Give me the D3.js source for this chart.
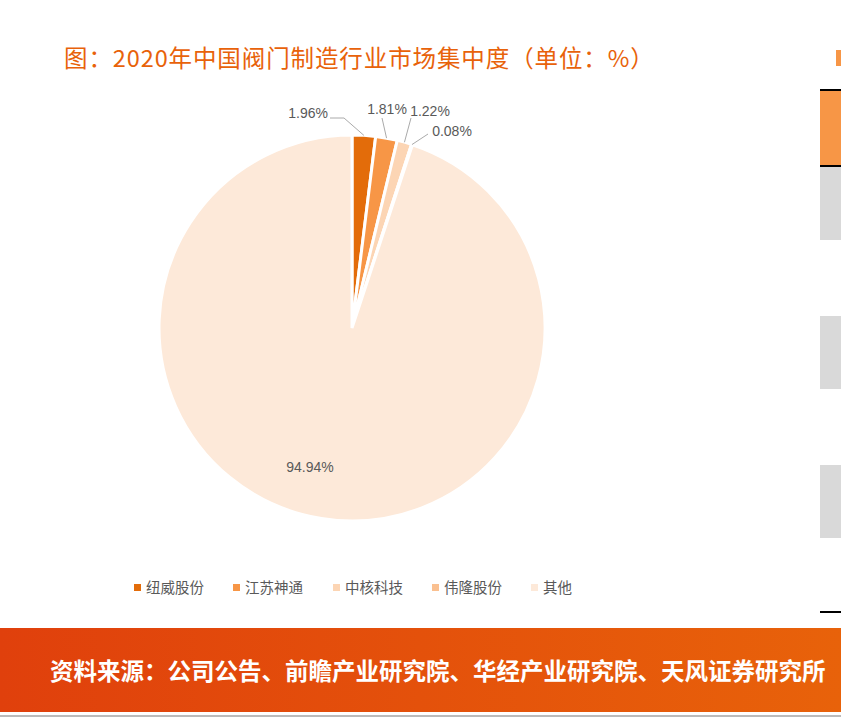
<!DOCTYPE html><html><head><meta charset="utf-8"><script src="https://cdn.jsdelivr.net/npm/d3@7"></script>
<style>body{margin:0;background:#fff}svg{display:block;font-family:"Noto Sans CJK SC","Noto Sans",sans-serif}</style></head><body>
<svg id="c" width="841" height="728"></svg>
<script>
const categories=["纽威股份","江苏神通","中核科技","伟隆股份","其他"];
const values=[1.96,1.81,1.22,0.08,94.94];
const labels=["1.96%","1.81%","1.22%","0.08%","94.94%"];
const colors=["#e36c0a","#f79646","#fcd5b4","#fac090","#fde9d9"];
const svg=d3.select("#c");
const defs=svg.append("defs");
const g1=defs.append("linearGradient").attr("id","bn");
g1.append("stop").attr("offset","0").attr("stop-color","#e0400c");
g1.append("stop").attr("offset","1").attr("stop-color","#e8620a");
svg.append("text").attr("x",64).attr("y",67).attr("fill","#e8620a").attr("font-size",23.5).attr("letter-spacing",0.9).text("图：2020年中国阀门制造行业市场集中度（单位：%）");
const cx=352,cy=328,r=193;
const pie=d3.pie().sort(null).value(d=>d)(values);
const arc=d3.arc().innerRadius(0).outerRadius(r);
const g=svg.append("g").attr("transform",`translate(${cx},${cy})`);
g.selectAll("path").data(pie).join("path").attr("d",arc).attr("fill",(d,i)=>colors[i]).attr("stroke","#fff").attr("stroke-width",3);
const lp=[[307,118,"end",[344,118]],[387,114,"middle",[382,118]],[430,116,"middle",[411,118]],[452,136,"middle",[428,134]]];
lp.forEach((p,i)=>{const a=(pie[i].startAngle+pie[i].endAngle)/2;const x0=Math.sin(a)*r,y0=-Math.cos(a)*r;
 svg.append("polyline").attr("points",`${cx+x0},${cy+y0} ${p[3][0]},${p[3][1]} ${i==0?p[3][0]-14:p[3][0]},${p[3][1]}`).attr("fill","none").attr("stroke","#aaa").attr("stroke-width",1);
 svg.append("text").attr("x",i==0?328:p[0]).attr("y",p[1]).attr("text-anchor",i==0?"end":"middle").attr("font-size",14).attr("fill","#595959").attr("font-family","Liberation Sans").text(labels[i]);});
svg.append("text").attr("x",310).attr("y",472).attr("text-anchor","middle").attr("font-size",14).attr("fill","#595959").attr("font-family","Liberation Sans").text(labels[4]);
const lx=[134,233,333,432,531];
categories.forEach((c,i)=>{svg.append("rect").attr("x",lx[i]).attr("y",584).attr("width",7).attr("height",7).attr("fill",colors[i]);
 svg.append("text").attr("x",lx[i]+12).attr("y",593).attr("font-size",14.5).attr("fill","#595959").text(c);});
svg.append("rect").attr("x",836).attr("y",50).attr("width",5).attr("height",16).attr("fill","#f79646");
svg.append("rect").attr("x",820).attr("y",91).attr("width",21).attr("height",74).attr("fill","#f79646");
[90,166,612].forEach(y=>svg.append("line").attr("x1",820).attr("x2",841).attr("y1",y).attr("y2",y).attr("stroke","#000").attr("stroke-width",2));
[167,316,465].forEach(y=>svg.append("rect").attr("x",820).attr("y",y).attr("width",21).attr("height",73).attr("fill","#d9d9d9"));
svg.append("rect").attr("x",0).attr("y",628).attr("width",841).attr("height",84).attr("fill","url(#bn)");
svg.append("text").attr("x",50).attr("y",680).attr("fill","#fff").attr("font-size",23.5).attr("font-weight","bold").text("资料来源：公司公告、前瞻产业研究院、华经产业研究院、天风证券研究所");
svg.append("line").attr("x1",0).attr("x2",841).attr("y1",716).attr("y2",716).attr("stroke","#bbb").attr("stroke-width",2);
</script></body></html>
